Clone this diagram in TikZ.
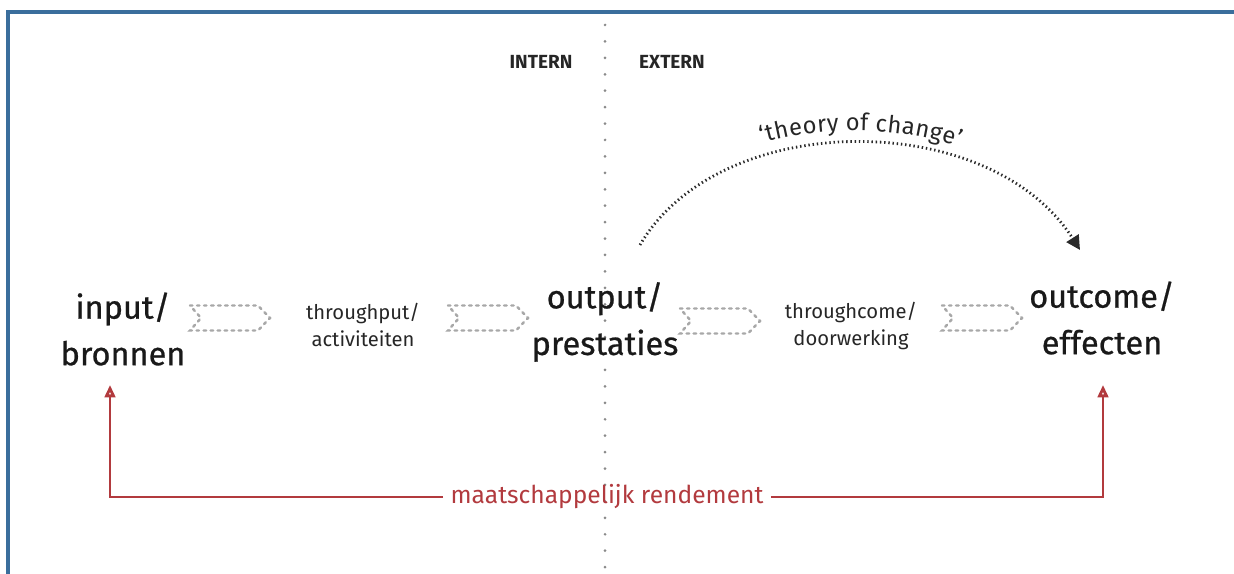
\documentclass[tikz,border=0pt]{standalone}
\usepackage{fontspec}
\setmainfont{Fira Sans}
\newfontfamily\semibold{Fira Sans}[FakeBold=0.7]
\usetikzlibrary{arrows.meta,decorations.text}
\definecolor{bord}{HTML}{3A6E9C}
\definecolor{rood}{HTML}{B23A3E}
\definecolor{chevgray}{HTML}{A8A8A8}
\definecolor{divgray}{HTML}{8A8A8A}
\definecolor{arcdark}{HTML}{2A2A2A}
\tikzset{
  big/.style={align=center, font=\semibold\fontsize{18.5}{26.5}\selectfont, text=black!90, inner sep=0pt},
  small/.style={align=center, font=\fontsize{11.5}{15.5}\selectfont, text=black!85, inner sep=0pt},
  side/.style={font=\bfseries\fontsize{10.8}{12}\selectfont, text=black!85, inner sep=0pt},
  chevst/.style={draw=chevgray, line width=1.4pt, dash pattern=on 1.4pt off 2.6pt, line cap=round},
  chevron/.pic={\draw[chevst] (-40,-12.5) -- (28,-12.5) -- (40,0) -- (28,12.5) -- (-40,12.5) -- (-29,0) -- cycle;},
  redline/.style={draw=rood, line width=1.6pt, -{Triangle[open, length=7pt, width=6pt]}},
}
\begin{document}
\begin{tikzpicture}[x=0.02cm, y=-0.02cm]
\useasboundingbox (0,0) rectangle (1234,574);
% border
\draw[bord, line width=2.3pt] (8,574) -- (8,12) -- (1234,12);
% divider
\draw[divgray, line width=1.7pt, line cap=round, dash pattern=on 0pt off 9.35pt] (605,25) -- (605,574);
\node[side] (intern) at (541,62) {INTERN};
\node[side] (extern) at (672,62) {EXTERN};
% main labels
\node[big] (in) at (123,329) {input/\\bronnen};
\node[small] (thp) at (363,325) {throughput/\\activiteiten};
\node[big] (out) at (605,322) {output/\\prestaties};
\node[small] (thc) at (851,326) {throughcome/\\doorwerking};
\node[big] (oc) at (1102,318) {outcome/\\effecten};
\pic at (230,318) {chevron};
\pic at (488,318) {chevron};
\pic at (720,321) {chevron};
\pic at (982,318) {chevron};
% theory of change
\coordinate (tocA) at (640,245);
\coordinate (tocB) at (1080,250);
\draw[arcdark, line width=1.6pt, dash pattern=on 0.8pt off 1.6pt, -{Triangle[length=8pt, width=8pt]}]
  (tocA) .. controls (720,108) and (990,108) .. (tocB);
\path[decorate, decoration={text along path, text align=center, raise=7pt,
  text={|\fontsize{13.5}{15}\selectfont\color{black!85}|‘theory of change’}}]
  (tocA) .. controls (720,108) and (990,108) .. (tocB);
% maatschappelijk rendement
\node[text=rood, font=\fontsize{14}{16}\selectfont, inner sep=4pt] (mr) at (607,497) {maatschappelijk rendement};
\coordinate (inA) at (110,385);
\coordinate (ocA) at (1103,385);
\draw[redline] (mr.west) -| (inA);
\draw[redline] (mr.east) -| (ocA);
\end{tikzpicture}
\end{document}
